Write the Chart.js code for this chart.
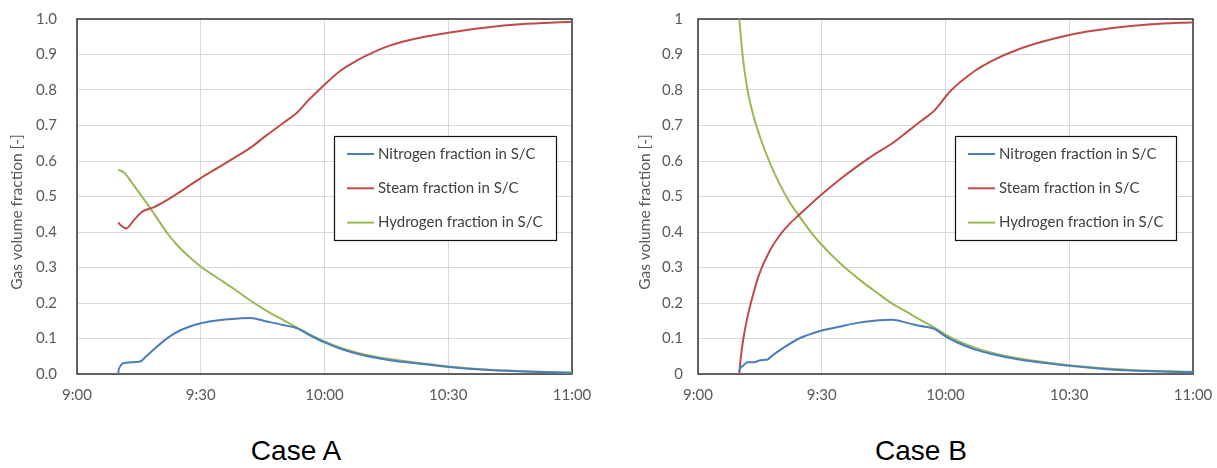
<!DOCTYPE html>
<html>
<head>
<meta charset="utf-8">
<script src="https://cdn.jsdelivr.net/npm/chart.js@4.4.1/dist/chart.umd.min.js"></script>
<style>
  html, body { margin: 0; padding: 0; background: #fff; }
  body { width: 1217px; height: 468px; position: relative; overflow: hidden; }
  .panel { position: absolute; top: 0; height: 420px; }
  #panelA { left: 0; width: 608px; }
  #panelB { left: 608px; width: 609px; }
  canvas { display: block; }
  .caption {
    position: absolute; top: 437px; width: 200px; text-align: center;
    font-family: "Liberation Sans", Arial, sans-serif; font-size: 28px; line-height: 28px; color: #000;
  }
</style>
</head>
<body>
<div class="panel" id="panelA"><canvas id="chartA" width="608" height="420"></canvas></div>
<div class="panel" id="panelB"><canvas id="chartB" width="609" height="420"></canvas></div>
<div class="caption" style="left:196px">Case A</div>
<div class="caption" style="left:821px">Case B</div>

<script>
// minutes after 9:00 on the x axis
const xTicks = [0, 30, 60, 90, 120];
const xTickLabels = ["9:00", "9:30", "10:00", "10:30", "11:00"];
const yTicks = [0, 0.1, 0.2, 0.3, 0.4, 0.5, 0.6, 0.7, 0.8, 0.9, 1];
const yTickLabelsA = ["0.0", "0.1", "0.2", "0.3", "0.4", "0.5", "0.6", "0.7", "0.8", "0.9", "1.0"];
const yTickLabelsB = ["0", "0.1", "0.2", "0.3", "0.4", "0.5", "0.6", "0.7", "0.8", "0.9", "1"];
const yTitle = "Gas volume fraction [-]";

const seriesNames = ["Nitrogen fraction in S/C", "Steam fraction in S/C", "Hydrogen fraction in S/C"];
const seriesColors = ["#4A7EBB", "#BE4B48", "#98B954"];

// Case A
const nitrogenATime = [10.0, 10.1, 11.9, 15.3, 16.7, 18.5, 20.4, 22.5, 25.2, 30.0, 33.4, 36.4, 42.0, 46.0, 50.0, 53.5, 56.0, 60.0, 63.7, 67.7, 71.8, 75.8, 83.1, 90.0, 100, 110, 120];
const nitrogenA = [0, 0.012, 0.032, 0.035, 0.049, 0.068, 0.087, 0.106, 0.124, 0.143, 0.150, 0.154, 0.158, 0.148, 0.138, 0.128, 0.112, 0.089, 0.072, 0.058, 0.047, 0.039, 0.029, 0.020, 0.011, 0.006, 0.003];
const steamATime = [10.0, 10.7, 11.9, 13.9, 15.9, 18.7, 22.0, 26.0, 30.0, 34.0, 38.0, 42.0, 46.0, 50.0, 53.5, 56.0, 60.0, 63.7, 67.7, 71.8, 75.8, 83.1, 90.0, 99.3, 107.4, 120];
const steamA = [0.427, 0.418, 0.410, 0.435, 0.458, 0.470, 0.491, 0.521, 0.552, 0.580, 0.608, 0.637, 0.673, 0.707, 0.738, 0.770, 0.815, 0.853, 0.882, 0.906, 0.925, 0.947, 0.961, 0.976, 0.985, 0.992];
const hydrogenATime = [10.0, 11.5, 13.9, 18.0, 22.0, 24.0, 26.0, 28.0, 30.0, 34.0, 38.0, 42.0, 46.0, 50.0, 53.5, 56.0, 60.0, 63.7, 67.7, 71.8, 75.8, 83.1, 90.0, 100, 110, 120];
const hydrogenA = [0.576, 0.566, 0.529, 0.463, 0.395, 0.367, 0.343, 0.322, 0.303, 0.271, 0.240, 0.207, 0.178, 0.152, 0.130, 0.114, 0.092, 0.075, 0.061, 0.050, 0.042, 0.031, 0.021, 0.012, 0.007, 0.004];

// Case B
const nitrogenBTime = [10.0, 10.2, 10.8, 12.0, 13.6, 15.2, 16.9, 17.7, 20.5, 24.5, 29.6, 34.6, 38.6, 42.7, 47.1, 50.7, 54.0, 57.3, 60.0, 63.0, 66.9, 70.9, 78.2, 90, 100, 110, 120];
const nitrogenB = [0.006, 0.016, 0.022, 0.033, 0.033, 0.039, 0.041, 0.049, 0.072, 0.100, 0.121, 0.134, 0.144, 0.150, 0.153, 0.144, 0.135, 0.127, 0.106, 0.088, 0.070, 0.057, 0.040, 0.023, 0.013, 0.008, 0.005];
const steamBTime = [10.0, 10.4, 11.0, 12.0, 13.2, 14.8, 17.3, 20.1, 22.2, 24.4, 29.6, 34.6, 38.6, 42.7, 47.1, 50.7, 54.0, 57.3, 61.2, 66.9, 70.9, 78.2, 90, 100, 110, 120];
const steamB = [0, 0.049, 0.100, 0.161, 0.217, 0.280, 0.345, 0.395, 0.423, 0.447, 0.502, 0.550, 0.585, 0.618, 0.650, 0.682, 0.712, 0.742, 0.797, 0.852, 0.880, 0.917, 0.955, 0.974, 0.985, 0.991];
const hydrogenBTime = [10.0, 10.8, 12.0, 13.5, 15.2, 17.3, 19.7, 22.1, 24.4, 26.9, 29.6, 33.4, 36.6, 40.0, 43.5, 47.1, 50.7, 54.0, 57.3, 60.0, 63.0, 66.9, 70.9, 78.2, 90, 100, 110, 120];
const hydrogenB = [1.0, 0.900, 0.800, 0.725, 0.662, 0.598, 0.537, 0.486, 0.447, 0.407, 0.369, 0.323, 0.290, 0.258, 0.228, 0.198, 0.174, 0.152, 0.131, 0.111, 0.093, 0.075, 0.061, 0.043, 0.025, 0.015, 0.009, 0.006];

const FONT = "Lato, 'Noto Sans', sans-serif";

function toPoints(times, values) {
  return times.map((t, i) => ({ x: t, y: values[i] }));
}

// plot area outline
const frame = {
  id: "frame",
  beforeDatasetsDraw(chart) {
    const { ctx, chartArea: a } = chart;
    ctx.save();
    ctx.strokeStyle = "#333";
    ctx.lineWidth = 1.5;
    ctx.strokeRect(a.left, a.top, a.right - a.left, a.bottom - a.top);
    ctx.restore();
  }
};

// boxed legend inside the plot, like the spreadsheet one
const boxLegend = {
  id: "boxLegend",
  afterDraw(chart, args, opts) {
    const { ctx, chartArea: a } = chart;
    const left = Math.round(a.right - opts.right - opts.width);
    const top = a.top + opts.top;
    ctx.save();
    ctx.fillStyle = "#fff";
    ctx.fillRect(left, top, opts.width, opts.height);
    ctx.strokeStyle = "#111";
    ctx.lineWidth = 1.2;
    ctx.strokeRect(left + 0.5, top + 0.5, opts.width, opts.height);
    ctx.font = "15px " + FONT;
    ctx.textBaseline = "middle";
    chart.data.datasets.forEach((ds, i) => {
      const y = top + 18 + i * 34.3;
      ctx.strokeStyle = ds.borderColor;
      ctx.lineWidth = 2;
      ctx.beginPath();
      ctx.moveTo(left + 13, y);
      ctx.lineTo(left + 40, y);
      ctx.stroke();
      ctx.fillStyle = "#404040";
      ctx.fillText(ds.label, left + 44, y);
    });
    ctx.restore();
  }
};

// rotated y title, drawn where the original sits
const sideTitle = {
  id: "sideTitle",
  afterDraw(chart, args, opts) {
    const ctx = chart.ctx;
    ctx.save();
    ctx.translate(opts.x, opts.y);
    ctx.rotate(-Math.PI / 2);
    ctx.font = "15.5px " + FONT;
    ctx.fillStyle = "#595959";
    ctx.textAlign = "center";
    ctx.textBaseline = "middle";
    ctx.fillText(opts.text, 0, 0);
    ctx.restore();
  }
};

function buildChart(id, series, yLabels, box) {
  const datasets = series.map((s, i) => ({
    label: seriesNames[i],
    data: toPoints(s[0], s[1]),
    borderColor: seriesColors[i],
    backgroundColor: seriesColors[i],
    borderWidth: 2,
    pointRadius: 0,
    cubicInterpolationMode: "monotone",
    fill: false
  }));

  return new Chart(document.getElementById(id), {
    type: "line",
    data: { datasets },
    options: {
      responsive: false,
      animation: false,
      layout: { padding: { left: 0, right: box.rightPad, top: 19, bottom: 0 } },
      scales: {
        x: {
          type: "linear",
          min: 0, max: 120,
          afterBuildTicks: s => { s.ticks = xTicks.map(v => ({ value: v })); },
          // fixed box; keep the label overhang from pushing the plot edges
          afterFit: s => { s.height = 46; s.paddingLeft = 0; s.paddingRight = 0; },
          grid: { color: "#d9d9d9", lineWidth: 1, drawTicks: false },
          border: { display: false },
          ticks: {
            padding: 12,
            color: "#595959",
            font: { family: FONT, size: 15 },
            maxRotation: 0,
            callback: v => xTickLabels[xTicks.indexOf(Math.round(v))]
          }
        },
        y: {
          min: 0, max: 1,
          afterBuildTicks: s => { s.ticks = yTicks.map(v => ({ value: v })); },
          afterFit: s => { s.width = box.yWidth; s.paddingTop = 0; s.paddingBottom = 0; },
          grid: { color: "#d9d9d9", lineWidth: 1, drawTicks: false },
          border: { display: false },
          ticks: {
            padding: box.yPad,
            color: "#595959",
            font: { family: FONT, size: 15 },
            callback: v => yLabels[Math.round(v * 10)]
          }
        }
      },
      plugins: {
        legend: { display: false },
        tooltip: { enabled: false },
        boxLegend: { right: box.legendRight, top: 117, width: box.legendWidth, height: 104 },
        sideTitle: { text: yTitle, x: box.titleX, y: 212 }
      }
    },
    plugins: [frame, boxLegend, sideTitle]
  });
}

buildChart("chartA",
  [[nitrogenATime, nitrogenA], [steamATime, steamA], [hydrogenATime, hydrogenA]],
  yTickLabelsA,
  { rightPad: 36, yWidth: 77, yPad: 20, titleX: 17, legendRight: 16, legendWidth: 222 });

buildChart("chartB",
  [[nitrogenBTime, nitrogenB], [steamBTime, steamB], [hydrogenBTime, hydrogenB]],
  yTickLabelsB,
  { rightPad: 24, yWidth: 90, yPad: 15, titleX: 37, legendRight: 17, legendWidth: 221 });
</script>
</body>
</html>
